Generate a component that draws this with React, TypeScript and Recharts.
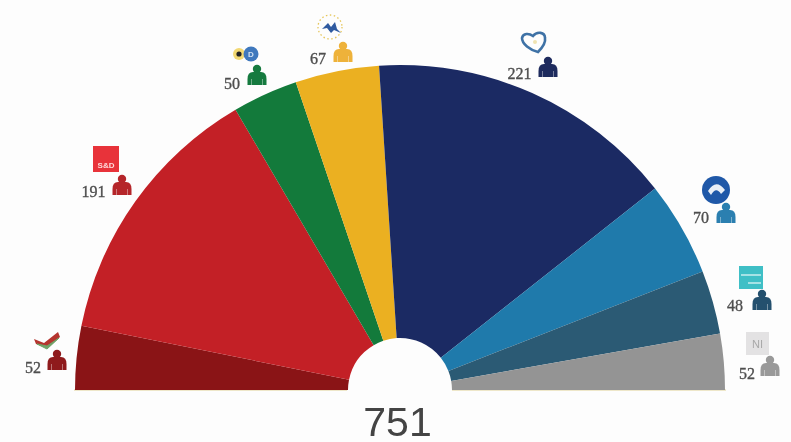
import { PieChart, Pie, Cell } from "recharts";

const parties = ["GUE/NGL", "S&D", "Greens/EFA", "ALDE", "EPP", "ECR", "EFDD", "NI"];
const seats = [52, 191, 50, 67, 221, 70, 48, 52];
// angular width of each wedge as measured on the picture (half circle = 180)
const arcDegrees = [11.4, 48.2, 11.7, 15, 55.4, 16.9, 11.4, 10];
const totalSeats = 751;

const sliceColors = ["#8a1416", "#c32026", "#137a3b", "#ebb021", "#1b2a63", "#1f7aab", "#2b5a74", "#949494"];
const personColors = ["#8f1a1c", "#b5262a", "#157a3f", "#eeb23a", "#1e2b5e", "#2b7fb0", "#24506e", "#999999"];

const numberPos = [[33, 367], [93.5, 191], [232, 83], [318, 58], [519.5, 73], [701, 217], [735, 305], [747, 373]];
const personPos = [[57, 360], [122, 185], [257, 75], [343, 52], [548, 67], [726, 213], [762, 300], [770, 366]];

const CX = 400;
const CY = 390;

const pieData = parties.map((name, i) => ({ name, arc: arcDegrees[i] }));

const Person = ({ x, y, color }: { x: number; y: number; color: string }) => (
  <g transform={`translate(${x},${y})`} fill={color}>
    <circle cx={0} cy={-6} r={4.2} />
    <path d="M-9.5 10 L-9.5 4 Q-9.5 -3 -4 -3 L4 -3 Q9.5 -3 9.5 4 L9.5 10 Z" />
    <path d="M-5.5 10 V4 M5.5 10 V4" stroke="#fdfdfd" strokeOpacity={0.5} strokeWidth={0.8} />
  </g>
);

const Logos = () => (
  <g>
    {/* GUE/NGL flag */}
    <path d="M34 339 L44 343 L58 332 L60 337 L47 348 L36 344 Z" fill="#b5352f" />
    <path d="M37 344 L47 349 L59 338 L47 346 Z" fill="#6fa368" stroke="#6fa368" />
    {/* S&D */}
    <rect x={93} y={146} width={26} height={26} fill="#e8333a" />
    <text x={106} y={168} textAnchor="middle" fontSize={8} fontWeight={700} fontFamily="Liberation Sans" fill="#ffd9d9">
      S&amp;D
    </text>
    {/* Greens */}
    <circle cx={239} cy={54} r={6} fill="#f2d873" />
    <circle cx={239} cy={54} r={2.6} fill="#222" />
    <circle cx={251} cy={54} r={7.5} fill="#3f78bd" />
    <text x={251} y={57} textAnchor="middle" fontSize={8} fontWeight={700} fontFamily="Liberation Sans" fill="#cfe0f2">
      D
    </text>
    {/* ALDE */}
    <circle cx={330} cy={27} r={12} fill="none" stroke="#e6c65a" strokeWidth={1.3} strokeDasharray="1.5 2.5" />
    <path d="M322 29 L328 23 L331 27 L335 22 L337 29 L341 33 L334 30 L331 33 L327 28 Z" fill="#2f5aa0" />
    {/* EPP heart */}
    <path
      d="M538 52 C530 50 522 44 522 38 C523 33 529 33 533 36 C537 31 545 32 545 38 C546 43 542 48 538 52 Z"
      fill="none"
      stroke="#3f72a6"
      strokeWidth={2.6}
    />
    <circle cx={535} cy={42} r={2} fill="#f0e3b0" />
    {/* ECR */}
    <circle cx={716} cy={190} r={14} fill="#1f58a8" />
    <path d="M708 191 Q716 178 725 190 L721 194 Q716 186 711 195 Z" fill="#e8eef6" />
    {/* EFDD */}
    <rect x={739} y={266} width={24} height={23} fill="#3fbfc6" />
    <path d="M741 275 H761 M748 283 H761" stroke="#c7eef0" strokeWidth={1.5} />
    {/* NI */}
    <rect x={746} y={332} width={23} height={23} fill="#e3e2e3" />
    <text x={757.5} y={348} textAnchor="middle" fontSize={11} fontFamily="Liberation Sans" fill="#a9a9a9">
      NI
    </text>
  </g>
);

const SeatLabels = () => (
  <g>
    {seats.map((seat, i) => (
      <text
        key={parties[i]}
        x={numberPos[i][0]}
        y={numberPos[i][1]}
        dy="0.35em"
        textAnchor="middle"
        fontSize={16}
        fontFamily="Liberation Serif"
        fill="#4f4f4f"
        stroke="#4f4f4f"
        strokeWidth={0.35}
      >
        {seat}
      </text>
    ))}
    {personPos.map(([x, y], i) => (
      <Person key={parties[i]} x={x} y={y} color={personColors[i]} />
    ))}
  </g>
);

export default function App() {
  return (
    <div
      style={{
        position: "absolute",
        left: 0,
        top: 0,
        width: 791,
        height: 442,
        background: "#fdfdfd",
        filter: "blur(0.6px)",
      }}
    >
      <PieChart width={791} height={442} margin={{ top: 0, right: 0, bottom: 0, left: 0 }}>
        <Pie
          data={pieData}
          dataKey="arc"
          nameKey="name"
          cx={CX}
          cy={CY}
          startAngle={180}
          endAngle={0}
          innerRadius={52}
          outerRadius={325}
          paddingAngle={0}
          stroke="none"
          isAnimationActive={false}
        >
          {pieData.map((d, i) => (
            <Cell key={d.name} fill={sliceColors[i]} />
          ))}
        </Pie>
        {/* cream baseline under the half circle */}
        <path d="M74 390 H347 M452 390 H726" stroke="#e9dfb8" strokeWidth={1.5} />
        <Logos />
        <SeatLabels />
        <text
          x={397.5}
          y={436}
          textAnchor="middle"
          fontSize={41}
          fontFamily="Liberation Sans"
          fill="#444"
        >
          {totalSeats}
        </text>
      </PieChart>
    </div>
  );
}
